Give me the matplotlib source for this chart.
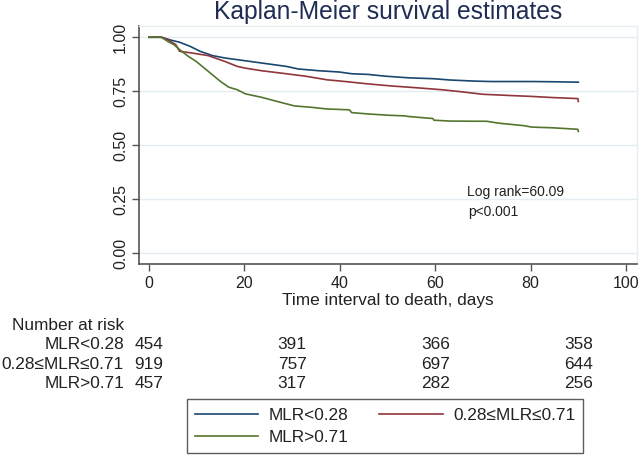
import matplotlib
matplotlib.use("Agg")
import matplotlib.pyplot as plt
import matplotlib.transforms as mtransforms

plt.rcParams['font.family'] = ['Liberation Sans', 'DejaVu Sans']

# ---- data ----
groups = ["MLR<0.28", "0.28≤MLR≤0.71", "MLR>0.71"]
colors = ["#1a476f", "#90353b", "#55752f"]

t_low = [0, 2.6, 4.7, 6.4, 8.6, 10.7, 13.3, 15.9, 20.2, 24.5, 28.8, 31.3, 35.6, 39.9,
         42.5, 45.9, 49.4, 54.5, 59.7, 63.1, 68.2, 71.7, 80.3, 84.5, 90.0]
s_low = [1.0, 1.0, 0.986, 0.977, 0.958, 0.935, 0.915, 0.904, 0.891, 0.878, 0.865, 0.853,
         0.845, 0.839, 0.831, 0.828, 0.820, 0.812, 0.808, 0.802, 0.797, 0.795, 0.795, 0.794, 0.792]

t_mid = [0, 2.6, 3.9, 5.6, 6.4, 9.0, 12.4, 15.9, 18.5, 20.2, 23.6, 28.8, 33.0, 37.3, 41.6,
         45.9, 51.1, 56.2, 61.4, 65.7, 70.0, 76.0, 80.3, 84.5, 89.9, 90.0]
s_mid = [1.0, 1.0, 0.989, 0.966, 0.935, 0.927, 0.915, 0.888, 0.865, 0.857, 0.845, 0.831,
         0.819, 0.803, 0.794, 0.784, 0.774, 0.766, 0.757, 0.747, 0.736, 0.730, 0.726, 0.721,
         0.716, 0.703]

t_high = [0, 2.6, 3.9, 5.2, 6.4, 8.2, 9.9, 11.6, 13.3, 15.0, 16.7, 18.5, 20.2, 23.6, 27.0,
          30.5, 33.9, 37.3, 42.0, 42.5, 45.9, 50.2, 53.6, 54.5, 58.8, 59.5, 59.7, 63.1, 70.8,
          73.4, 78.5, 80.3, 84.5, 89.9, 90.0]
s_high = [1.0, 1.0, 0.981, 0.966, 0.943, 0.912, 0.888, 0.857, 0.826, 0.795, 0.769, 0.757,
          0.738, 0.722, 0.702, 0.682, 0.676, 0.668, 0.664, 0.651, 0.645, 0.639, 0.636, 0.633,
          0.625, 0.624, 0.616, 0.612, 0.611, 0.602, 0.591, 0.584, 0.581, 0.574, 0.564]

risk_times = [0, 30, 60, 90]
risk_low = [454, 391, 366, 358]
risk_mid = [919, 757, 697, 644]
risk_high = [457, 317, 282, 256]

xticks = [0, 20, 40, 60, 80, 100]
yticks = [0.00, 0.25, 0.50, 0.75, 1.00]

W, H = 641, 458
fig = plt.figure(figsize=(W / 100, H / 100), dpi=100)
fig.patch.set_facecolor("white")

L, R, T, B = 139, 637, 26, 264
ax = fig.add_axes([L / W, 1 - B / H, (R - L) / W, (B - T) / H])

for t, s, c, g in zip([t_low, t_mid, t_high], [s_low, s_mid, s_high], colors, groups):
    ax.plot(t, s, color=c, lw=1.2, label=g)

ax.set_xlim(-2.1, 102.3)
ax.set_ylim(-0.0495, 1.052)
ax.set_xticks(xticks)
ax.set_yticks(yticks)
ax.set_yticklabels([f"{v:.2f}" for v in yticks])
ax.set_xticklabels([str(v) for v in xticks])
ax.grid(axis="y", color="#e3edf1", lw=1.0)
ax.set_axisbelow(True)

for sp in ["left", "bottom"]:
    ax.spines[sp].set_color("#555555")
    ax.spines[sp].set_linewidth(1.2)
for sp in ["top", "right"]:
    ax.spines[sp].set_color("#e6eef2")
    ax.spines[sp].set_linewidth(1.0)

ax.tick_params(axis="both", direction="out", length=5, width=1.0, color="#555555",
               labelsize=11.5, labelcolor="#222222")
ax.tick_params(axis="y", pad=3, labelrotation=90)
ax.tick_params(axis="x", pad=4)
for lbl in ax.get_yticklabels():
    lbl.set_va("center")

ax.set_xlabel("Time interval to death, days", fontsize=12.4, color="#222222", labelpad=1)

fig.text(388 / W, 1 - 11.7 / H, "Kaplan-Meier survival estimates", ha="center", va="center",
         fontsize=17.7, color="#1f2d55")

ax.text(66.7, 0.285, "Log rank=60.09", fontsize=10, color="#222222", ha="left", va="center")
ax.text(66.9, 0.193, "p<0.001", fontsize=10, color="#222222", ha="left", va="center")

# Number at risk table
trans = mtransforms.blended_transform_factory(ax.transData, fig.transFigure)
fig.text(124 / W, 1 - 325 / H, "Number at risk", ha="right", va="center", fontsize=12.4,
         color="#222222")
rows_y = [344.3, 364.3, 384.0]
for g, vals, yy in zip(groups, [risk_low, risk_mid, risk_high], rows_y):
    fig.text(124 / W, 1 - yy / H, g, ha="right", va="center", fontsize=12.4, color="#222222")
    for tt, v in zip(risk_times, vals):
        fig.text(tt, 1 - yy / H, str(v), transform=trans, ha="center", va="center",
                 fontsize=12.4, color="#222222")

handles, labels = ax.get_legend_handles_labels()
order = [0, 2, 1]  # column-major fill -> row 1: low, mid; row 2: high
leg = fig.legend([handles[i] for i in order], [labels[i] for i in order], ncol=2,
                 loc="upper left", bbox_to_anchor=(186.5 / W, 1 - 399.3 / H),
                 bbox_transform=fig.transFigure, borderaxespad=0, fontsize=12.4,
                 frameon=True, fancybox=False, edgecolor="#333333", handlelength=3.7,
                 handletextpad=0.6, columnspacing=1.75, labelspacing=0.4, borderpad=0.48)
leg.get_frame().set_linewidth(1.0)
for txt in leg.get_texts():
    txt.set_color("#222222")

fig.savefig("out.png", dpi=100)
